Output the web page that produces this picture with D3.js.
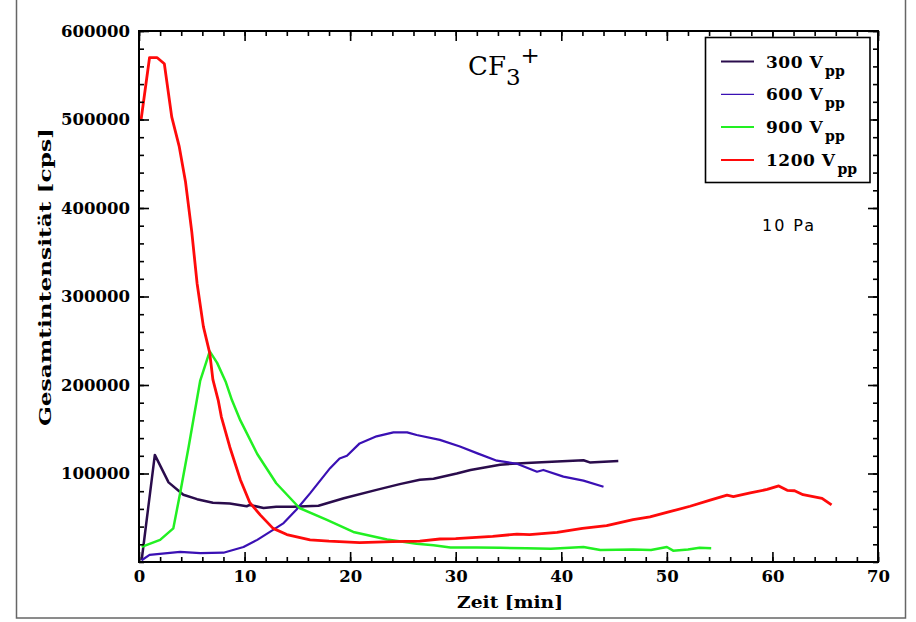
<!DOCTYPE html>
<html>
<head>
<meta charset="utf-8">
<script src="https://cdn.jsdelivr.net/npm/d3@7"></script>
<style>
  html, body { margin: 0; padding: 0; background: #fff; }
  svg { display: block; }
</style>
</head>
<body>
<svg id="chart" width="916" height="622"></svg>
<script>
// Total CF3+ ion intensity over time at 10 Pa, one trace per RF amplitude.
const seriesNames = ["300", "600", "900", "1200"];
const seriesColors = ["#2a0c4c", "#3a10b4", "#22f022", "#ff0a0a"];

const t300 = [0.25, 1.5, 2.8, 4.2, 5.5, 7.0, 8.6, 10.2, 10.5, 11.8, 13.0, 14.6, 17.0, 19.4, 22.5, 24.7, 26.6, 27.9, 30.1, 31.4, 34.2, 36.7, 39.6, 42.1, 42.7, 45.4];
const v300 = [2000, 121000, 90000, 76000, 71000, 67000, 66000, 63000, 64500, 61000, 62500, 62500, 63500, 72000, 81500, 88000, 93000, 94000, 100000, 104000, 110000, 112000, 113500, 115000, 112500, 114000];

const t600 = [0.25, 1.0, 3.9, 5.8, 8.0, 9.9, 11.2, 12.4, 13.7, 14.9, 16.2, 18.1, 19.0, 19.7, 20.9, 22.5, 24.1, 25.4, 26.3, 28.5, 30.4, 32.0, 33.9, 35.8, 37.7, 38.3, 40.2, 42.1, 44.0];
const v600 = [2000, 8000, 11500, 10000, 10500, 17000, 25000, 34000, 44000, 59000, 77500, 106000, 117000, 120000, 134000, 142000, 146500, 146500, 143500, 138000, 130500, 123000, 114500, 111000, 102000, 104000, 96500, 92000, 85000];

const t900 = [0.25, 2.0, 3.25, 3.9, 4.7, 5.8, 6.7, 7.4, 8.2, 8.8, 9.6, 11.2, 13.0, 15.2, 17.8, 20.3, 23.5, 26.3, 27.9, 29.5, 32.0, 34.2, 36.7, 39.0, 42.1, 43.7, 46.8, 48.5, 50.0, 50.6, 52.0, 53.1, 54.2];
const v900 = [17000, 25000, 38000, 78000, 130000, 205000, 238000, 225000, 204000, 183000, 160000, 122000, 89000, 61000, 47500, 34000, 25500, 20500, 19000, 16500, 16500, 16000, 15500, 15000, 17000, 13500, 14000, 13500, 17000, 12800, 14000, 16000, 15500];

const t1200 = [0.2, 1.0, 1.7, 2.4, 3.1, 3.8, 4.4, 5.0, 5.5, 6.1, 6.7, 7.0, 7.5, 7.8, 8.6, 9.6, 10.5, 11.5, 12.7, 14.0, 16.2, 18.0, 20.9, 24.0, 26.6, 28.5, 30.0, 33.5, 35.8, 37.0, 39.6, 42.0, 44.3, 46.8, 48.4, 50.0, 52.2, 54.1, 55.7, 56.3, 57.9, 59.5, 60.6, 61.4, 62.1, 62.9, 64.7, 65.6];
const v1200 = [500000, 570000, 570000, 563000, 503000, 470000, 430000, 373000, 315000, 266000, 236000, 206000, 183000, 164000, 130000, 93000, 67000, 53000, 38000, 31000, 25000, 23500, 22000, 23000, 23500, 26000, 26500, 29000, 31500, 31000, 33500, 38000, 41000, 48000, 51000, 56000, 63000, 70000, 75500, 74000, 78000, 82000, 86000, 81000, 80500, 76000, 72000, 64500];

const xTickValues = [0, 10, 20, 30, 40, 50, 60, 70];
const yTickValues = [100000, 200000, 300000, 400000, 500000, 600000];

const seriesT = [t300, t600, t900, t1200];
const seriesV = [v300, v600, v900, v1200];

const svg = d3.select("#chart");
const serif = "'DejaVu Serif', serif";

const plotLeft = 139, plotRight = 878, plotTop = 31, plotBottom = 562;
const x = d3.scaleLinear().domain([0, 70]).range([plotLeft, plotRight]);
const y = d3.scaleLinear().domain([0, 600000]).range([plotBottom, plotTop]);

// outer page border
svg.append("rect")
  .attr("x", 16.5).attr("y", -2).attr("width", 889).attr("height", 620)
  .attr("fill", "none").attr("stroke", "#666").attr("stroke-width", 1.5);

// data lines (clipped to the plot area)
svg.append("clipPath").attr("id", "plotclip")
  .append("rect").attr("x", plotLeft).attr("y", plotTop)
  .attr("width", plotRight - plotLeft).attr("height", plotBottom - plotTop);

const line = d3.line().x(d => x(d[0])).y(d => y(d[1]));
const lineWidths = [2.5, 2.2, 2.5, 2.8];
const plot = svg.append("g").attr("clip-path", "url(#plotclip)");
seriesT.forEach((ts, i) => {
  plot.append("path")
    .datum(ts.map((t, k) => [t, seriesV[i][k]]))
    .attr("fill", "none")
    .attr("stroke", seriesColors[i])
    .attr("stroke-width", lineWidths[i])
    .attr("stroke-linejoin", "round")
    .attr("d", line);
});

// ticks on all four sides, pointing inward
const xMinor = d3.range(0, 70.001, 2);
const yMinor = d3.range(0, 600001, 20000);

function styleAxis(g) {
  g.select(".domain").remove();
  g.selectAll(".tick line").attr("stroke", "#000").attr("stroke-width", 1.6);
}

svg.append("g").attr("transform", `translate(0,${plotBottom})`)
  .call(d3.axisBottom(x).tickValues(xMinor).tickSizeInner(-5).tickFormat(""))
  .call(styleAxis);
svg.append("g").attr("transform", `translate(0,${plotTop})`)
  .call(d3.axisTop(x).tickValues(xMinor).tickSizeInner(-5).tickFormat(""))
  .call(styleAxis);
svg.append("g").attr("transform", `translate(${plotLeft},0)`)
  .call(d3.axisLeft(y).tickValues(yMinor).tickSizeInner(-5).tickFormat(""))
  .call(styleAxis);
svg.append("g").attr("transform", `translate(${plotRight},0)`)
  .call(d3.axisRight(y).tickValues(yMinor).tickSizeInner(-5).tickFormat(""))
  .call(styleAxis);

const xAxis = svg.append("g").attr("transform", `translate(0,${plotBottom})`)
  .call(d3.axisBottom(x).tickValues(xTickValues).tickSizeInner(-10).tickPadding(8).tickFormat(d3.format("d")))
  .call(styleAxis);
svg.append("g").attr("transform", `translate(0,${plotTop})`)
  .call(d3.axisTop(x).tickValues(xTickValues).tickSizeInner(-10).tickFormat(""))
  .call(styleAxis);
const yAxis = svg.append("g").attr("transform", `translate(${plotLeft},0)`)
  .call(d3.axisLeft(y).tickValues(yTickValues).tickSizeInner(-10).tickPadding(9).tickFormat(d3.format("d")))
  .call(styleAxis);
svg.append("g").attr("transform", `translate(${plotRight},0)`)
  .call(d3.axisRight(y).tickValues(yTickValues).tickSizeInner(-10).tickFormat(""))
  .call(styleAxis);

[xAxis, yAxis].forEach(g => g.selectAll("text")
  .attr("fill", "#000")
  .style("font-family", serif)
  .style("font-weight", "bold")
  .style("font-size", "16.5px"));

// plot frame
svg.append("rect")
  .attr("x", plotLeft).attr("y", plotTop)
  .attr("width", plotRight - plotLeft).attr("height", plotBottom - plotTop)
  .attr("fill", "none").attr("stroke", "#000").attr("stroke-width", 2);

// axis titles
svg.append("text")
  .attr("x", 510).attr("y", 608)
  .attr("text-anchor", "middle")
  .attr("textLength", 106).attr("lengthAdjust", "spacingAndGlyphs")
  .style("font-family", serif).style("font-weight", "bold").style("font-size", "17px")
  .text("Zeit [min]");

svg.append("text")
  .attr("transform", "translate(51,277) rotate(-90)")
  .attr("text-anchor", "middle")
  .attr("textLength", 298).attr("lengthAdjust", "spacingAndGlyphs")
  .style("font-family", serif).style("font-weight", "bold").style("font-size", "17px")
  .text("Gesamtintensität [cps]");

// species label
const title = svg.append("text")
  .attr("x", 468).attr("y", 75)
  .style("font-family", serif).style("font-size", "26px");
title.append("tspan").text("CF");
title.append("tspan").attr("dy", 10).style("font-size", "23px").text("3");
title.append("tspan").attr("dy", -22).style("font-size", "23px").text("+");

// pressure note
svg.append("text")
  .attr("x", 762).attr("y", 231)
  .attr("textLength", 52).attr("lengthAdjust", "spacing")
  .style("font-family", "'DejaVu Sans', sans-serif").style("font-size", "16px")
  .text("10 Pa");

// legend
const legend = svg.append("g");
legend.append("rect")
  .attr("x", 705.5).attr("y", 37.5).attr("width", 164.5).attr("height", 145)
  .attr("fill", "#fff").attr("stroke", "#000").attr("stroke-width", 1.6);
const legendWidths = [2, 1.2, 2, 2];
seriesNames.forEach((name, i) => {
  const ly = 61.5 + i * 32.8;
  legend.append("line")
    .attr("x1", 721).attr("x2", 754).attr("y1", ly).attr("y2", ly)
    .attr("stroke", seriesColors[i]).attr("stroke-width", legendWidths[i]);
  const txt = legend.append("text")
    .attr("x", 766).attr("y", ly + 6)
    .style("font-family", serif).style("font-weight", "bold").style("font-size", "17px");
  txt.append("tspan").attr("letter-spacing", "0.5px").text(name + " V");
  txt.append("tspan").attr("dy", 8).attr("dx", 2).style("font-size", "14px").text("pp");
});
</script>
</body>
</html>
